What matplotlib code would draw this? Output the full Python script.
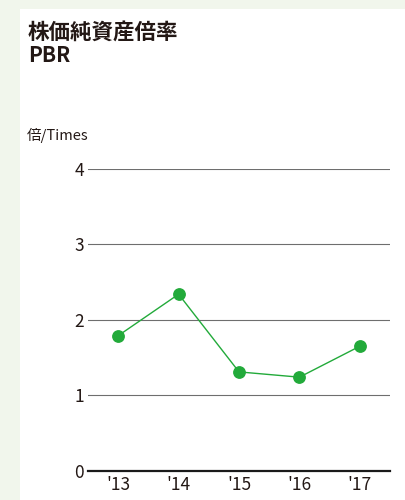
import matplotlib.pyplot as plt
from matplotlib.patches import Rectangle

plt.rcParams['font.family'] = ['Noto Sans CJK JP', 'DejaVu Sans']

years = ["'13", "'14", "'15", "'16", "'17"]
pbr = [1.79, 2.34, 1.31, 1.24, 1.65]
yticks = [0, 1, 2, 3, 4]

green = '#22aa3a'
ink = '#231815'

fig = plt.figure(figsize=(4.05, 5.0), dpi=100)
fig.patch.set_facecolor('#f1f6ec')
# white panel behind the chart
fig.patches.append(Rectangle((20 / 405, 0), 385 / 405, 491 / 500,
                             transform=fig.transFigure, facecolor='white',
                             edgecolor='none', zorder=-10))

ax = fig.add_axes([88 / 405, 1 - 470.7 / 500, 302 / 405, 301.7 / 500])
ax.set_facecolor('none')
ax.set_zorder(5)

x = list(range(len(years)))
ax.plot(x, pbr, color=green, lw=1.0, marker='o', ms=8.2, zorder=3)

ax.set_xlim(-0.5, len(years) - 0.5)
ax.set_ylim(0, 4)
ax.set_yticks(yticks)
ax.set_xticks(x)
ax.set_xticklabels(years)

for v in yticks[1:]:
    ax.axhline(v, color='#6e6e6e', lw=0.8, zorder=1)
ax.axhline(0, color='#1a1a1a', lw=1.6, zorder=2, clip_on=False)

for s in ax.spines.values():
    s.set_visible(False)
ax.tick_params(axis='y', length=0, pad=3, labelsize=12.5, labelcolor=ink)
ax.tick_params(axis='x', length=0, pad=4, labelsize=12.5, labelcolor=ink)

# title (Japanese / English) and unit label
fig.text(28 / 405, 1 - 39 / 500, '株価純資産倍率', ha='left', va='baseline',
         fontsize=15.5, fontweight='bold', color=ink)
fig.text(28 / 405, 1 - 62 / 500, 'PBR', ha='left', va='baseline',
         fontsize=15, fontweight='bold', color=ink)
fig.text(27 / 405, 1 - 140 / 500, '倍/Times', ha='left', va='baseline',
         fontsize=10.5, color=ink)

fig.savefig('out.png', dpi=100, facecolor=fig.get_facecolor())
